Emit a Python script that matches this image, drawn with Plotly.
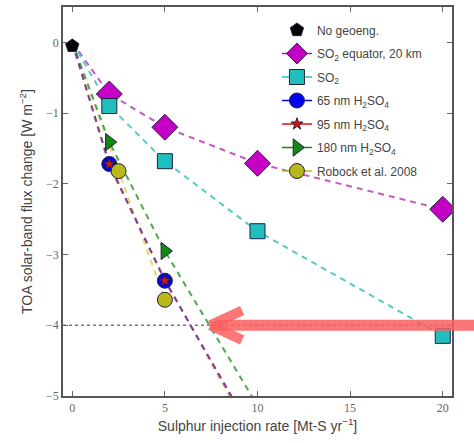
import plotly.graph_objects as go

# ---------------- data ----------------
no_geo_x = [0]
no_geo_y = [-0.05]

so2eq_x = [2, 5, 10, 20]
so2eq_y = [-0.73, -1.20, -1.71, -2.36]

so2_x = [2, 5, 10, 20]
so2_y = [-0.90, -1.68, -2.67, -4.15]

h65_x = [2, 5]
h65_y = [-1.72, -3.37]

h95_x = [2, 5]
h95_y = [-1.72, -3.37]

h180_x = [2, 5]
h180_y = [-1.41, -2.95]

robock_x = [2.5, 5]
robock_y = [-1.82, -3.64]

# dashed guide lines (origin -> points -> extension)
line_so2eq_x = [0, 2, 5, 10, 20]
line_so2eq_y = [0, -0.73, -1.20, -1.71, -2.36]
line_so2_x = [0, 2, 5, 10, 20]
line_so2_y = [0, -0.90, -1.68, -2.67, -4.15]
line_h65_x = [0, 2, 5, 8.7]
line_h65_y = [0, -1.72, -3.37, -5.05]
line_h95_x = [0, 2, 5, 8.6]
line_h95_y = [0, -1.75, -3.35, -5.05]
line_h180_x = [0, 2, 5, 9.8]
line_h180_y = [0, -1.41, -2.95, -5.05]
line_robock_x = [0, 2.5, 5]
line_robock_y = [0, -1.82, -3.64]

threshold_y = -4
arrow_tip_x = 7.45

x_ticks = [0, 5, 10, 15, 20]
y_ticks = [0, -1, -2, -3, -4, -5]
x_range = [-0.5, 20.5]
y_range = [-5, 0.5]

W, H = 474, 443
ML, MR, MT, MB = 63, 22, 7, 47
plot_h = H - MT - MB

fig = go.Figure()

# dashed lines
dash_lines = [
    (line_robock_x, line_robock_y, "#e6d86a"),
    (line_h95_x, line_h95_y, "#f29a6a"),
    (line_so2eq_x, line_so2eq_y, "#c25ac2"),
    (line_so2_x, line_so2_y, "#55c8c8"),
    (line_h180_x, line_h180_y, "#4fa84f"),
    (line_h65_x, line_h65_y, "#7a3c9e"),
]
for lx, ly, c in dash_lines:
    fig.add_trace(go.Scatter(x=lx, y=ly, mode="lines",
                             line=dict(color=c, width=2, dash="6px,5px"),
                             showlegend=False, hoverinfo="skip"))

# horizontal threshold dotted line
fig.add_trace(go.Scatter(x=x_range, y=[threshold_y, threshold_y], mode="lines",
                         line=dict(color="#777777", width=1.3, dash="dot"),
                         showlegend=False, hoverinfo="skip"))

series = [
    ("No geoeng.", no_geo_x, no_geo_y, "pentagon", "black", 14, False),
    ("SO<sub>2</sub> equator, 20 km", so2eq_x, so2eq_y, "diamond", "#c400c4", 20, True),
    ("SO<sub>2</sub>", so2_x, so2_y, "square", "#1fbfbf", 15, True),
    ("65 nm H<sub>2</sub>SO<sub>4</sub>", h65_x, h65_y, "circle", "#0000ee", 15, True),
    ("95 nm H<sub>2</sub>SO<sub>4</sub>", h95_x, h95_y, "star", "#dd1111", 9, True),
    ("180 nm H<sub>2</sub>SO<sub>4</sub>", h180_x, h180_y, "triangle-right", "#118811", 15, True),
    ("Robock et al. 2008", robock_x, robock_y, "circle", "#b8b81a", 15, True),
]
for name, xs, ys, sym, col, sz, _ in series:
    fig.add_trace(go.Scatter(x=xs, y=ys, mode="markers", name=name,
                             marker=dict(symbol=sym, color=col, size=sz,
                                         line=dict(color="#222244", width=1)),
                             showlegend=False))

# legend entries, one legend per row so the row spacing matches
legend_layouts = {}
for i, (name, xs, ys, sym, col, sz, has_line) in enumerate(series):
    key = "legend" if i == 0 else f"legend{i + 1}"
    row_px = 30 + i * 23.5
    legend_layouts[key] = dict(
        x=0.55, y=1 - (row_px - MT) / plot_h, xanchor="left", yanchor="middle",
        bgcolor="rgba(255,255,255,0)", borderwidth=0,
        font=dict(size=12, color="#444444"), itemwidth=30)
    fig.add_trace(go.Scatter(x=[None], y=[None],
                             mode="lines+markers" if has_line else "markers",
                             name=name, legend=key,
                             line=dict(color=col, width=1.5),
                             marker=dict(symbol=sym, color=col, size=min(sz, 16),
                                         line=dict(color="#222244", width=1))))

# arrow annotation drawn with shapes (paper coordinates)
px0, px1 = x_range
py0, py1 = y_range
tip_px = (arrow_tip_x - px0) / (px1 - px0)
tip_py = (threshold_y - py0) / (py1 - py0)
arrow_col = "rgba(250,95,95,0.85)"
fig.add_shape(type="line", xref="paper", yref="paper",
              x0=tip_px + 0.012, y0=tip_py, x1=1.1, y1=tip_py,
              line=dict(color=arrow_col, width=11))
fig.add_shape(type="line", xref="paper", yref="paper",
              x0=tip_px, y0=tip_py, x1=tip_px + 0.082, y1=tip_py + 0.038,
              line=dict(color=arrow_col, width=10))
fig.add_shape(type="line", xref="paper", yref="paper",
              x0=tip_px, y0=tip_py, x1=tip_px + 0.082, y1=tip_py - 0.038,
              line=dict(color=arrow_col, width=10))

axis_common = dict(showgrid=False, zeroline=False, showline=True, linecolor="#555555",
                   linewidth=1.8, mirror="ticks", ticks="inside", ticklen=5,
                   tickcolor="#666666", automargin=False,
                   tickfont=dict(family="Liberation Serif", size=12, color="#666666"))

fig.update_layout(
    width=W, height=H,
    margin=dict(l=ML, r=MR, t=MT, b=MB),
    paper_bgcolor="white", plot_bgcolor="white",
    font=dict(family="Liberation Sans, Arial, sans-serif", color="#333333"),
    xaxis=dict(range=x_range, tickvals=x_ticks,
               title=dict(text="Sulphur injection rate [Mt-S yr<sup>−1</sup>]",
                          font=dict(size=14, color="#444444"), standoff=7),
               **axis_common),
    yaxis=dict(range=y_range, tickvals=y_ticks,
               title=dict(text="TOA solar-band flux change [W m<sup>−2</sup>]",
                          font=dict(size=14, color="#444444"), standoff=10),
               **axis_common),
    showlegend=True,
    **legend_layouts,
)

fig.write_html("out.html",
               config={"displayModeBar": False},
               post_script="document.body.style.margin='0';document.body.style.overflow='hidden';")
